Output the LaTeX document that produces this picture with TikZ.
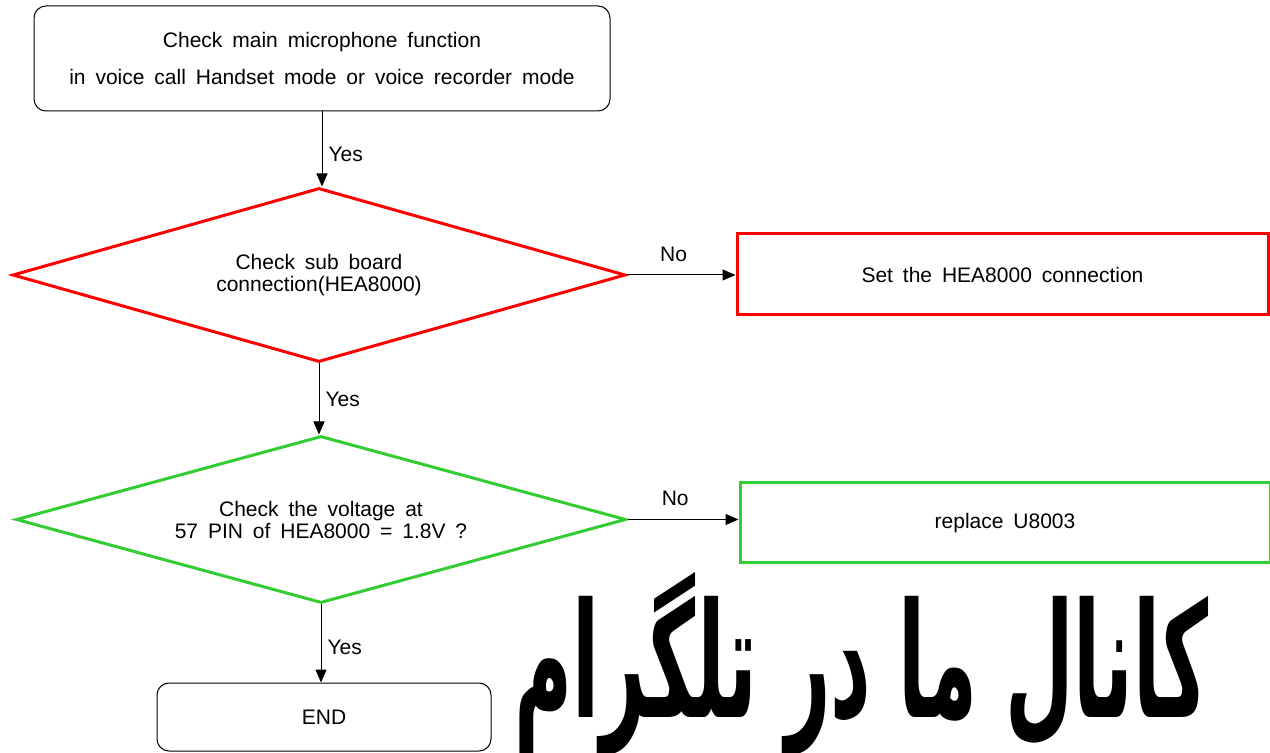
\documentclass[tikz,border=0pt]{standalone}
\usepackage{fontspec}
\setmainfont{Liberation Sans}[WordSpace=1.7]
\newfontfamily\persianfont[Script=Arabic]{DejaVu Sans}
\TeXXeTstate=1
\usetikzlibrary{shapes.geometric, arrows.meta, positioning}
\definecolor{FlowRed}{RGB}{255, 0, 0}
\definecolor{FlowGreen}{RGB}{51, 204, 51}
\definecolor{FlowText}{RGB}{0, 0, 0}

\begin{document}
\begin{tikzpicture}[x=0.5pt,y=-0.5pt,
  font=\fontsize{10.5}{11}\selectfont,
  roundbox/.style={draw, line width=0.5pt, rounded corners=6pt, align=center, inner sep=0pt},
  decision/.style={diamond, draw, line width=1.5pt, align=center, inner sep=0pt},
  actionbox/.style={rectangle, draw, line width=1.5pt, align=center, inner sep=0pt},
  flowarrow/.style={-{Triangle[length=6.5pt,width=5.5pt]}, line width=0.5pt},
  yeslabel/.style={right, inner sep=3pt},
  nolabel/.style={above, inner sep=6.5pt}]
  \path[use as bounding box] (0,0) rectangle (1270,753);
  \fill[white] (0,0) rectangle (1270,753);
  \node[roundbox, minimum width=288pt, minimum height=52.5pt,
        font=\fontsize{10.5}{18.5}\selectfont] (micfunc) at (322,58.5)
    {Check main microphone function\\in voice call Handset mode or voice recorder mode};
  \node[decision, FlowRed, aspect=3.52, minimum width=306.5pt, minimum height=87pt] (subboard) at (319,275)
    {\color{FlowText}Check sub board\\\color{FlowText}connection(HEA8000)};
  \node[actionbox, FlowRed, minimum width=265.5pt, minimum height=40.5pt] (setconn) at (1002.5,274.5)
    {\color{FlowText}Set the HEA8000 connection};
  \node[decision, FlowGreen, aspect=3.65, minimum width=305pt, minimum height=83.5pt] (voltage) at (321,519.5)
    {\color{FlowText}Check the voltage at\\\color{FlowText}57 PIN of HEA8000 = 1.8V ?};
  \node[actionbox, FlowGreen, minimum width=265pt, minimum height=40pt] (replace) at (1005,523)
    {\color{FlowText}replace U8003};
  \node[roundbox, minimum width=167pt, minimum height=34pt] (finish) at (324,717) {END};
  \node (channel) at (862,664)
    {\resizebox*{347pt}{92pt}{\persianfont\bfseries\beginR کانال ما در تلگرام\endR}};

  \draw[flowarrow] (micfunc.south) -- node[yeslabel, pos=0.57] {Yes} (micfunc.south |- subboard.north);
  \draw[flowarrow] (subboard.east) -- node[nolabel, pos=0.43] {No} (subboard.east -| setconn.west);
  \draw[flowarrow] (subboard.south) -- node[yeslabel, pos=0.5] {Yes} (subboard.south |- voltage.north);
  \draw[flowarrow] (voltage.east) -- node[nolabel, pos=0.43] {No} (voltage.east -| replace.west);
  \draw[flowarrow] (voltage.south) -- node[yeslabel, pos=0.55] {Yes} (voltage.south |- finish.north);
\end{tikzpicture}
\end{document}
